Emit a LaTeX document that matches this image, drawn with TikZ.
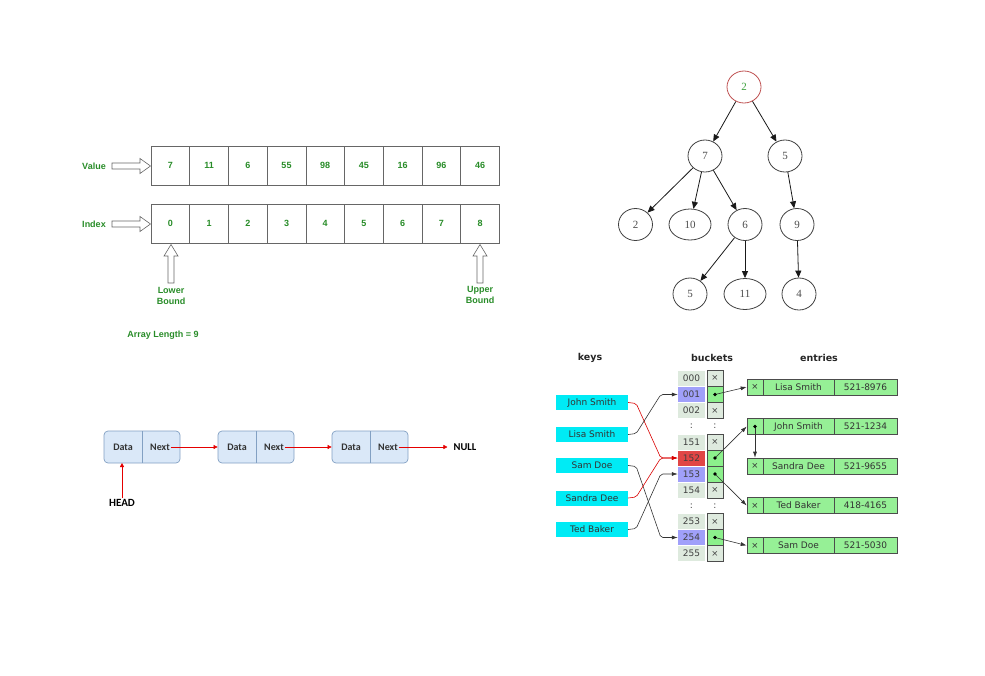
\documentclass[tikz,border=0pt]{standalone}
\usepackage{fontspec}
\setmainfont{Liberation Serif}
\newfontfamily\arialf{Liberation Sans}
\newfontfamily\calf{Carlito}
\newfontfamily\dejaf{DejaVu Sans}
\usetikzlibrary{shapes.geometric,arrows.meta,calc}
\definecolor{agreen}{RGB}{40,140,40}
\definecolor{llfill}{RGB}{218,232,248}
\definecolor{llborder}{RGB}{130,160,195}
\definecolor{keycyan}{RGB}{0,235,245}
\definecolor{bnumfill}{RGB}{222,234,222}
\definecolor{blav}{RGB}{160,160,250}
\definecolor{bred}{RGB}{225,70,70}
\definecolor{bptrfill}{RGB}{222,234,222}
\definecolor{bdot}{RGB}{140,240,140}
\definecolor{entfill}{RGB}{150,240,150}
\definecolor{rootred}{RGB}{190,80,80}
\definecolor{rootgreen}{RGB}{60,160,60}
\begin{document}
\begin{tikzpicture}[x=1pt,y=-1pt,
 acell/.style={draw=black!60, line width=0.6pt, minimum width=38.7pt, minimum height=39pt, inner sep=0pt, text=agreen, font=\arialf\bfseries\fontsize{9}{11}\selectfont},
 alabel/.style={text=agreen, font=\arialf\bfseries\fontsize{9}{11}\selectfont, align=center, inner sep=0pt},
 hollow/.style={draw=black!60, line width=0.6pt, fill=white},
 tnode/.style={ellipse, draw=black!75, line width=0.8pt, minimum width=34pt, minimum height=32pt, inner sep=0pt, text=black!70, font=\fontsize{11}{13}\selectfont},
 tedge/.style={-{Triangle[length=7pt,width=6pt]}, line width=0.8pt, black!90},
 llbox/.style={draw=llborder, fill=llfill, rounded corners=4pt, minimum width=76pt, minimum height=32pt, line width=0.7pt, inner sep=0pt},
 lltext/.style={font=\calf\bfseries\fontsize{10}{12}\selectfont, text=black!80, inner sep=1pt},
 llarrow/.style={-{Triangle[length=4pt,width=4pt]}, red!90!black, line width=0.5pt},
 kbox/.style={fill=keycyan, minimum width=72pt, minimum height=15pt, inner sep=0pt, font=\dejaf\fontsize{9}{11}\selectfont, text=black!80},
 bnum/.style={minimum width=27pt, minimum height=15pt, inner sep=0pt, font=\dejaf\fontsize{9}{11}\selectfont, text=black!75},
 bptr/.style={draw=black!70, minimum width=16pt, minimum height=16pt, inner sep=0pt, line width=0.6pt, font=\dejaf\fontsize{8.5}{10}\selectfont, text=black!75},
 ecell/.style={draw=black!70, fill=entfill, minimum height=16pt, inner sep=0pt, line width=0.6pt, font=\dejaf\fontsize{9}{11}\selectfont, text=black!80},
 hhead/.style={font=\dejaf\bfseries\fontsize{9.5}{11}\selectfont, text=black!85, inner sep=0pt},
 harrow/.style={-{Latex[length=6pt,width=4pt]}, line width=0.6pt, black!80},
 karrow/.style={-{Latex[length=6pt,width=4pt]}, line width=0.6pt, black!80, rounded corners=2pt},
 rarrow/.style={-{Latex[length=6pt,width=4pt]}, line width=0.6pt, red!85!black, rounded corners=2pt}
]
\useasboundingbox (0,0) rectangle (985,675);

% ---------------- Array ----------------
\foreach \v [count=\i from 0] in {7,11,6,55,98,45,16,96,46} {
  \node[acell] (v\i) at ({170.4+38.7*\i},165.5) {\v};
  \node[acell] (x\i) at ({170.4+38.7*\i},223.5) {\i};
}
\node[alabel] (lval) at (94,166) {Value};
\node[alabel] (lidx) at (94,224) {Index};
\draw[hollow] (112,163)--(140,163)--(140,158.5)--(150.5,166)--(140,173.5)--(140,169)--(112,169)--cycle;
\draw[hollow] (112,221)--(140,221)--(140,216.5)--(150.5,224)--(140,231.5)--(140,227)--(112,227)--cycle;
\draw[hollow] (171,244.5)--(178,256)--(174,256)--(174,283)--(168,283)--(168,256)--(164,256)--cycle;
\draw[hollow] (480,244.5)--(487,256)--(483,256)--(483,283)--(477,283)--(477,256)--(473,256)--cycle;
\node[alabel] (lb) at (171,296) {Lower\\Bound};
\node[alabel] (ub) at (480,295) {Upper\\Bound};
\node[alabel] (alen) at (163,335.5) {Array Length = 9};

% ---------------- Tree ----------------
\node[tnode, draw=rootred, text=rootgreen] (r) at (744,87) {2};
\node[tnode] (a7) at (705,156) {7};
\node[tnode] (a5) at (785,156) {5};
\node[tnode] (b2) at (635.5,224.5) {2};
\node[tnode, minimum width=42pt, minimum height=31pt] (b10) at (690,224.5) {10};
\node[tnode] (b6) at (745,224.5) {6};
\node[tnode] (b9) at (797,224.5) {9};
\node[tnode] (c5) at (690,294) {5};
\node[tnode, minimum width=42pt, minimum height=31pt] (c11) at (745,294) {11};
\node[tnode] (c4) at (799,294) {4};
\draw[tedge] (r) -- (a7);
\draw[tedge] (r) -- (a5);
\draw[tedge] (a7) -- (b2);
\draw[tedge] (a7) -- (b10);
\draw[tedge] (a7) -- (b6);
\draw[tedge] (a5) -- (b9);
\draw[tedge] (b6) -- (c5);
\draw[tedge] (b6) -- (c11);
\draw[tedge] (b9) -- (c4);

% ---------------- Linked list ----------------
\foreach \k/\cx in {1/142,2/256,3/370} {
  \node[llbox] (l\k) at (\cx,447) {};
  \draw[llborder, line width=0.7pt] (\cx,431) -- (\cx,463);
  \node[lltext] (d\k) at ({\cx-19},447) {Data};
  \node[lltext] (n\k) at ({\cx+18},447) {Next};
}
\node[font=\calf\bfseries\fontsize{10.5}{12}\selectfont, inner sep=1pt] (null) at (465,447) {NULL};
\node[font=\calf\bfseries\fontsize{11}{13}\selectfont, inner sep=1pt] (head) at (122,503) {HEAD};
\draw[llarrow] (n1.east) -- (l2.west);
\draw[llarrow] (n2.east) -- (l3.west);
\draw[llarrow] (n3.east) -- ([xshift=-5pt]null.west);
\draw[llarrow] (head.north) -- (122,463);

% ---------------- Hash table ----------------
\node[hhead] (hk) at (590,358) {keys};
\node[hhead] (hb) at (712,358) {buckets};
\node[hhead] (he) at (819,358) {entries};

\node[kbox] (kJ) at (592,402.5) {John Smith};
\node[kbox] (kL) at (592,434.5) {Lisa Smith};
\node[kbox] (kM) at (592,465.5) {Sam Doe};
\node[kbox] (kS) at (592,498) {Sandra Dee};
\node[kbox] (kT) at (592,529.5) {Ted Baker};

\foreach \n/\y/\f/\g/\c in {000/378/bnumfill/bptrfill/×, 001/394.5/blav/bdot/, 002/410.5/bnumfill/bptrfill/×,
  151/442/bnumfill/bptrfill/×, 152/458/bred/bdot/, 153/474/blav/bdot/, 154/490/bnumfill/bptrfill/×,
  253/521.5/bnumfill/bptrfill/×, 254/537.5/blav/bdot/, 255/553.5/bnumfill/bptrfill/×} {
  \node[bnum, fill=\f] (b\n) at (691.5,\y) {\n};
  \node[bptr, fill=\g] (p\n) at (715,\y) {\c};
}
\node[bnum] (c1a) at (691.5,426) {:};
\node[bnum] (c1b) at (715,426) {:};
\node[bnum] (c2a) at (691.5,506) {:};
\node[bnum] (c2b) at (715,506) {:};

\foreach \nm/\ph/\y/\id/\xc in {Lisa Smith/521-8976/387/L/×, John Smith/521-1234/426.5/J/, Sandra Dee/521-9655/466/S/×, Ted Baker/418-4165/505.5/T/×, Sam Doe/521-5030/545.5/D/×} {
  \node[ecell, minimum width=16pt, font=\dejaf\fontsize{8.5}{10}\selectfont] (ex\id) at (755,\y) {\xc};
  \node[ecell, minimum width=71pt] (en\id) at (798.5,\y) {\nm};
  \node[ecell, minimum width=63pt] (ep\id) at (865.5,\y) {\ph};
}

% keys -> buckets
\draw[rarrow] (kJ.east) -- ++(8,1) -- ([xshift=-17pt]b152.west) -- (b152.west);
\draw[karrow] (kL.east) -- ++(8,-1) -- ([xshift=-17pt]b001.west) -- (b001.west);
\draw[karrow] (kM.east) -- ++(8,1) -- ([xshift=-17pt]b254.west) -- (b254.west);
\draw[rarrow] (kS.east) -- ++(8,-1) -- ([xshift=-17pt]b152.west) -- (b152.west);
\draw[karrow] (kT.east) -- ++(8,-1) -- ([xshift=-17pt]b153.west) -- (b153.west);

% buckets -> entries
\draw[harrow] (p001.center) -- (exL.west);
\draw[harrow] (p152.center) -- (exJ.west);
\draw[harrow] (exJ.center) -- (exS.north);
\draw[harrow] (p153.center) -- (exT.west);
\draw[harrow] (p254.center) -- (exD.west);
\foreach \d in {p001,p152,p153,p254,exJ} { \fill[black] (\d.center) circle (1.8pt); }
\end{tikzpicture}
\end{document}
